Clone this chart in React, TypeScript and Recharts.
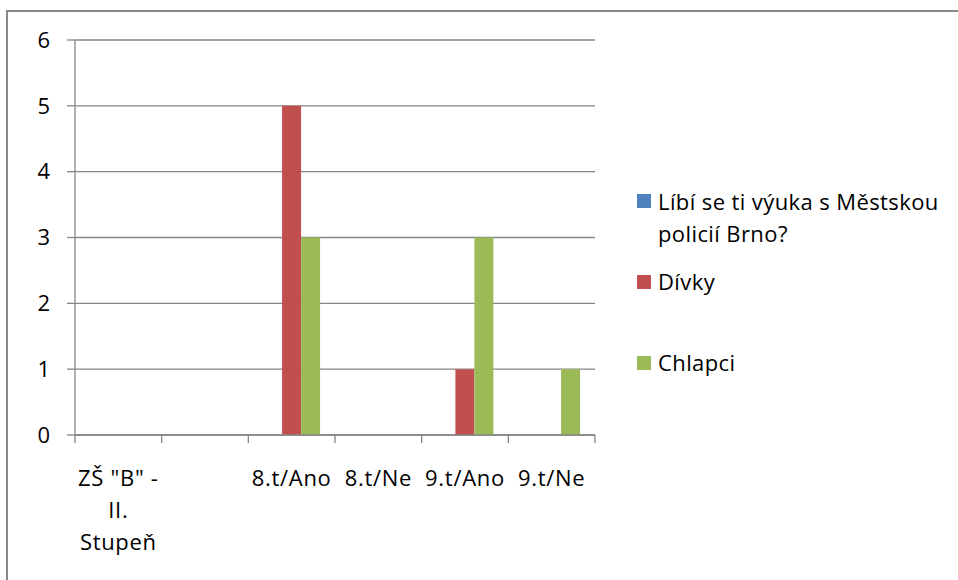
import React from 'react';
import { BarChart, Bar, XAxis, YAxis, CartesianGrid, Legend } from 'recharts';

const categories = ['ZŠ "B" - II. Stupeň', '', '8.t/Ano', '8.t/Ne', '9.t/Ano', '9.t/Ne'];
const categoryLabelLines = [['ZŠ "B" -', 'II.', 'Stupeň'], [''], ['8.t/Ano'], ['8.t/Ne'], ['9.t/Ano'], ['9.t/Ne']];
const seriesNames = ['Líbí se ti výuka s Městskou policií Brno?', 'Dívky', 'Chlapci'];
const surveyValues: (number | null)[] = [null, null, null, null, null, null];
const divkyValues: (number | null)[] = [null, null, 5, null, 1, null];
const chlapciValues: (number | null)[] = [null, null, 3, null, 3, 1];
const yTicks = [0, 1, 2, 3, 4, 5, 6];
const seriesColors = ['#4F81BD', '#C0504D', '#9BBB59'];

const data = categories.map((c, i) => ({
  cat: c,
  s0: surveyValues[i],
  s1: divkyValues[i],
  s2: chlapciValues[i],
}));

const FONT = '"Open Sans", sans-serif';
const AXIS = '#868686';

const XTick = (props: any) => {
  const { x, y, payload, index } = props;
  const half = payload && payload.offset ? payload.offset : 520 / categories.length / 2;
  const lines = categoryLabelLines[index] || [];
  const isLast = index === categories.length - 1;
  return (
    <g>
      <line x1={x - half} x2={x - half} y1={y} y2={y + 8} stroke={AXIS} strokeWidth={1.3} />
      {isLast && <line x1={x + half} x2={x + half} y1={y} y2={y + 8} stroke={AXIS} strokeWidth={1.3} />}
      {lines.map((l, i) => (
        <text key={i} x={x} y={y + 51 + i * 32} textAnchor="middle" fill="#000" fontSize={22} fontFamily={FONT} letterSpacing={0.7}>
          {l}
        </text>
      ))}
    </g>
  );
};

const legendTextTops = [185, 265, 346];
const legendSquareTops = [194, 275, 356];

const LegendContent = (props: any) => {
  const payload = props.payload || [];
  return (
    <div style={{ position: 'relative', width: 320, height: 400 }}>
      {payload.map((e: any, k: number) => {
        const i = Math.max(0, seriesNames.indexOf(e.value));
        return (
          <React.Fragment key={k}>
            <div style={{ position: 'absolute', left: 0, top: legendSquareTops[i] - 180, width: 14, height: 14, background: seriesColors[i] }} />
            <div style={{ position: 'absolute', left: 21, top: legendTextTops[i] - 180, width: 295, fontFamily: FONT, fontSize: 22, lineHeight: '32px', letterSpacing: 0.4, color: '#000', whiteSpace: 'normal' }}>
              {e.value}
            </div>
          </React.Fragment>
        );
      })}
    </div>
  );
};

export default function App() {
  return (
    <div style={{ position: 'fixed', left: 0, top: 0, width: 958, height: 580, background: '#fff', overflow: 'hidden' }}>
      <div style={{ position: 'absolute', left: 6, top: 10, width: 1000, height: 1000, borderLeft: '2px solid #898989', borderTop: '2px solid #898989' }} />
      <div style={{ position: 'absolute', left: 0, top: 0 }}>
        <BarChart
          width={958}
          height={580}
          data={data}
          margin={{ top: 40, right: 363, bottom: 0, left: 0 }}
          barCategoryGap="17%"
          barGap={0}
        >
          <CartesianGrid vertical={false} stroke={AXIS} strokeWidth={1.3} />
          <XAxis
            dataKey="cat"
            height={145}
            interval={0}
            tickSize={0}
            tickMargin={0}
            tickLine={false}
            axisLine={{ stroke: AXIS, strokeWidth: 1.3 }}
            tick={<XTick />}
          />
          <YAxis
            width={75}
            domain={[0, 6]}
            ticks={yTicks}
            interval={0}
            tickSize={8}
            tickMargin={17}
            axisLine={{ stroke: AXIS, strokeWidth: 1.3 }}
            tickLine={{ stroke: AXIS, strokeWidth: 1.3 }}
            tick={{ fill: '#000', fontSize: 22, fontFamily: FONT }}
          />
          <Legend
            layout="horizontal"
            verticalAlign="middle"
            align="center"
            wrapperStyle={{ position: 'absolute', left: 637, top: 180, width: 320, height: 400 }}
            content={<LegendContent />}
          />
          <Bar dataKey="s0" name={seriesNames[0]} fill={seriesColors[0]} isAnimationActive={false} />
          <Bar dataKey="s1" name={seriesNames[1]} fill={seriesColors[1]} isAnimationActive={false} />
          <Bar dataKey="s2" name={seriesNames[2]} fill={seriesColors[2]} isAnimationActive={false} />
        </BarChart>
      </div>
    </div>
  );
}
